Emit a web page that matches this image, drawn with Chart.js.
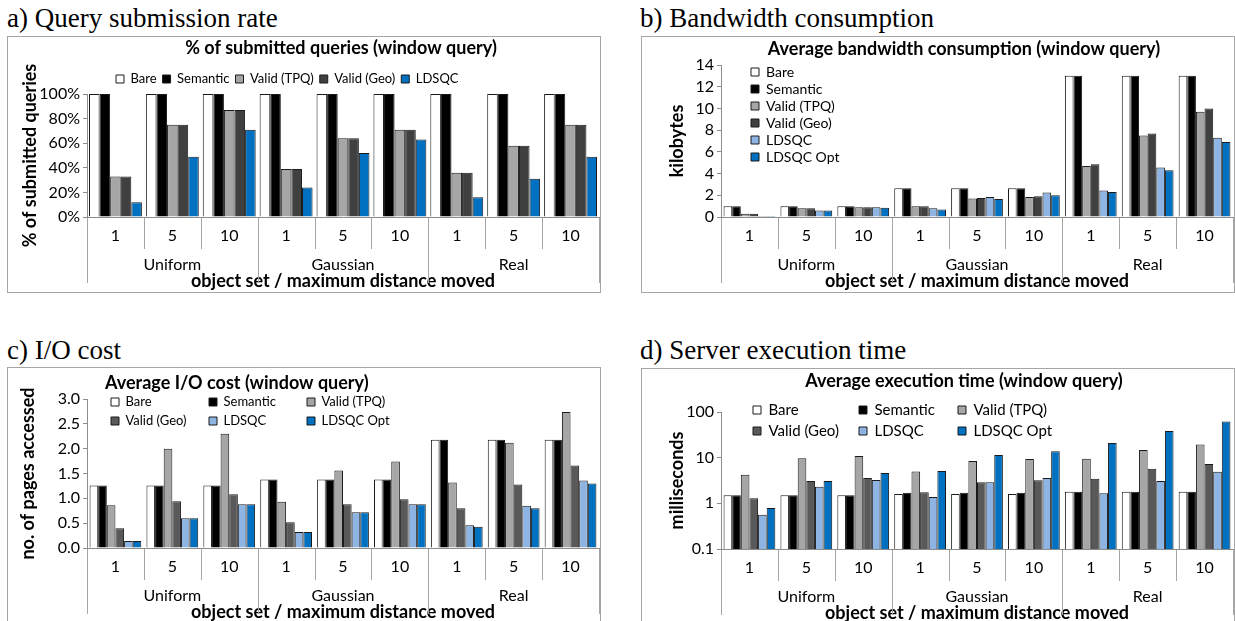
<!DOCTYPE html>
<html><head><meta charset="utf-8">
<script src="https://cdn.jsdelivr.net/npm/chart.js@4.4.1/dist/chart.umd.min.js"></script>
<style>
html,body{margin:0;padding:0;background:#fff;width:1235px;height:621px;overflow:hidden;}
body{position:relative;}
.ptitle{position:absolute;font-family:"Liberation Serif","Times New Roman",serif;font-size:27px;line-height:27px;color:#000;white-space:nowrap;}
.box{position:absolute;border:1px solid #a6a6a6;width:592px;height:255px;overflow:hidden;}
.box canvas{display:block;}
</style></head><body>
<div class="ptitle" style="left:7px;top:5px">a) Query submission rate</div>
<div class="ptitle" style="left:640px;top:5px">b) Bandwidth consumption</div>
<div class="ptitle" style="left:7px;top:337px">c) I/O cost</div>
<div class="ptitle" style="left:640px;top:337px">d) Server execution time</div>
<div class="box" style="left:7px;top:36px"><canvas id="ca" width="592" height="255"></canvas></div>
<div class="box" style="left:641px;top:36px"><canvas id="cb" width="592" height="255"></canvas></div>
<div class="box" style="left:7px;top:367px"><canvas id="cc" width="592" height="255"></canvas></div>
<div class="box" style="left:641px;top:368px"><canvas id="cd" width="592" height="255"></canvas></div>
<script>
// ---------- data ----------
const groups = ['Uniform', 'Gaussian', 'Real'];
const distances = ['1', '5', '10'];
const seriesNames = ['Bare', 'Semantic', 'Valid (TPQ)', 'Valid (Geo)', 'LDSQC', 'LDSQC Opt'];

// a) % of submitted queries
const aBare     = [100, 100, 100, 100, 100, 100, 100, 100, 100];
const aSemantic = [100, 100, 100, 100, 100, 100, 100, 100, 100];
const aTPQ      = [33, 75, 87, 39, 64, 71, 36, 58, 75];
const aGeo      = [33, 75, 87, 39, 64, 71, 36, 58, 75];
const aLDSQC    = [12, 49, 71, 24, 52, 63, 16, 31, 49];
const aTicks    = [0, 20, 40, 60, 80, 100];

// b) kilobytes
const bBare     = [1.0, 1.0, 1.0, 2.65, 2.65, 2.65, 13, 13, 13];
const bSemantic = [1.0, 1.0, 1.0, 2.65, 2.65, 2.65, 13, 13, 13];
const bTPQ      = [0.3, 0.8, 0.9, 1.0, 1.7, 1.85, 4.7, 7.5, 9.7];
const bGeo      = [0.3, 0.8, 0.9, 1.0, 1.75, 1.9, 4.85, 7.7, 10.0];
const bLDSQC    = [0.1, 0.6, 0.9, 0.8, 1.85, 2.25, 2.45, 4.55, 7.3];
const bOpt      = [0.1, 0.6, 0.85, 0.7, 1.65, 2.0, 2.3, 4.3, 6.9];
const bTicks    = [0, 2, 4, 6, 8, 10, 12, 14];

// c) pages accessed
const cBare     = [1.26, 1.26, 1.26, 1.38, 1.38, 1.38, 2.18, 2.18, 2.18];
const cSemantic = [1.26, 1.26, 1.26, 1.38, 1.38, 1.38, 2.18, 2.18, 2.18];
const cTPQ      = [0.86, 2.0, 2.3, 0.93, 1.56, 1.74, 1.32, 2.12, 2.74];
const cGeo      = [0.4, 0.94, 1.08, 0.52, 0.88, 0.98, 0.8, 1.28, 1.66];
const cLDSQC    = [0.14, 0.6, 0.88, 0.32, 0.72, 0.88, 0.46, 0.85, 1.36];
const cOpt      = [0.14, 0.6, 0.88, 0.32, 0.72, 0.88, 0.43, 0.8, 1.3];
const cTicks    = [0, 0.5, 1, 1.5, 2, 2.5, 3];

// d) milliseconds (log)
const dBare     = [1.5, 1.5, 1.5, 1.6, 1.6, 1.6, 1.8, 1.8, 1.8];
const dSemantic = [1.5, 1.5, 1.5, 1.7, 1.7, 1.7, 1.8, 1.8, 1.8];
const dTPQ      = [4.2, 9.7, 10.9, 5.0, 8.5, 9.4, 9.5, 14.8, 19.4];
const dGeo      = [1.3, 3.1, 3.6, 1.75, 2.9, 3.2, 3.45, 5.7, 7.3];
const dLDSQC    = [0.56, 2.3, 3.25, 1.38, 2.9, 3.6, 1.66, 3.1, 4.9];
const dOpt      = [0.79, 3.1, 4.6, 5.1, 11.5, 13.8, 21, 38.5, 62];
const dTicks    = [0.1, 1, 10, 100];

// ---------- styling ----------
Chart.defaults.font.family = 'Lato, "Open Sans", sans-serif';
Chart.defaults.color = '#000';
const AXIS = '#8c8c8c';
const SEP = '#a6a6a6';
const C_BARE = '#ffffff', C_SEM = '#000000', C_TPQ = '#a6a6a6', C_LD = '#8db4e2', C_OPT = '#0070c0';

const catLabels = [];
groups.forEach(() => distances.forEach(d => catLabels.push(d)));

const tweak = {
  id: 'tweak',
  afterLayout(chart, args, o) {
    if (o.titleDx && chart.titleBlock) {
      chart.titleBlock.left += o.titleDx;
      chart.titleBlock.right += o.titleDx;
    }
    const lg = chart.legend;
    if (lg && o.legend) {
      const L = o.legend;
      const lo = lg.options.labels;
      const p = lo.padding;
      const itemH = Math.max(lo.font.size, lo.boxHeight);
      const lh = itemH + p;
      const H = p + L.rows * lh + 1;
      lg.update(chart.width, H, {left: 0, top: 0, right: 0, bottom: 0});
      lg.left = L.x - p;
      lg.top = L.y - p - itemH / 2;
      lg.right = chart.width;
      lg.bottom = lg.top + H;
      lg.width = lg.right - lg.left;
      lg.height = H;
      if (L.cols && lg.columnSizes) {
        lg.columnSizes.forEach((c, i) => {
          if (i + 1 < L.cols.length) c.width = L.cols[i + 1] - L.cols[i] - p;
        });
      }
    }
  },
  afterDraw(chart, args, o) {
    const xs = chart.scales.x;
    const ctx = chart.ctx;
    const y0 = chart.chartArea.bottom;
    const n = xs.getLabels().length;
    const g = distances.length;
    ctx.save();
    ctx.strokeStyle = SEP;
    ctx.lineWidth = 1;
    for (let i = 0; i <= n; i++) {
      let px;
      if (i === 0) px = xs.left;
      else if (i === n) px = xs.right;
      else px = (xs.getPixelForValue(i - 1) + xs.getPixelForValue(i)) / 2;
      const len = (i % g === 0) ? o.longLen : o.shortLen;
      const x = Math.round(px) + 0.5;
      ctx.beginPath();
      ctx.moveTo(x, y0 + 1);
      ctx.lineTo(x, y0 + len);
      ctx.stroke();
    }
    ctx.restore();
  }
};

function ds(label, data, color, catPct) {
  return {label, data, backgroundColor: color, borderColor: '#1a1a1a', borderWidth: 1,
          categoryPercentage: catPct, barPercentage: 1, xAxisID: 'x', yAxisID: 'y'};
}

function makeChart(id, c) {
  return new Chart(document.getElementById(id), {
    type: 'bar',
    data: {labels: catLabels, datasets: c.datasets},
    plugins: [tweak],
    options: {
      responsive: false, animation: false, events: [], devicePixelRatio: 1,
      layout: {padding: {left: 0, right: 1, top: 0, bottom: 0}},
      plugins: {
        tooltip: {enabled: false},
        title: {display: true, text: c.title, fullSize: false, align: c.titleAlign || 'center',
                font: {size: 18, weight: 'bold'}, color: '#000',
                padding: {top: c.titlePad[0], bottom: c.titlePad[1]}},
        legend: {display: true, position: 'chartArea', align: 'start',
                 labels: {boxWidth: 8, boxHeight: 8, padding: c.legendPad, color: '#000',
                          font: {size: c.legendFont}, sort: c.legendSort}},
        tweak: {titleDx: c.titleDx, legend: c.legendPos, shortLen: 32, longLen: 66}
      },
      scales: {
        x: {type: 'category', position: 'bottom', offset: true,
            grid: {display: false, drawTicks: false},
            border: {display: true, color: AXIS},
            ticks: {font: {size: 16}, padding: 9.5, maxRotation: 0, autoSkip: false, color: '#000'},
            afterFit: s => { s.height = 35; }},
        x2: {type: 'category', position: 'bottom', offset: true, labels: groups,
             grid: {display: false, drawTicks: false},
             border: {display: false},
             ticks: {font: {size: 16}, padding: 2.8, maxRotation: 0, autoSkip: false, color: '#000'},
             title: {display: true, text: 'object set / maximum distance moved',
                     font: {size: 18, weight: 'bold'}, color: '#000', padding: {top: 0, bottom: 0}},
             afterFit: s => { s.height = 40; }},
        y: {type: c.yType || 'linear', position: 'left', min: c.yMin, max: c.yMax,
            grid: {drawOnChartArea: false, drawTicks: true, tickLength: 4, color: AXIS},
            border: {display: true, color: AXIS},
            ticks: {font: {size: 16}, padding: 3, color: '#000', autoSkip: false, callback: c.tickFmt},
            afterBuildTicks: s => { s.ticks = c.ticks.map(v => ({value: v})); },
            title: {display: true, text: c.yTitle, font: {size: 18, weight: 'bold'}, color: '#000',
                    padding: {top: c.yTitlePad, bottom: 0}},
            afterFit: s => { s.width = 79; }}
      }
    }
  });
}

// column-major order for the 3x2 legends: Bare, Geo | Semantic, LDSQC | TPQ, Opt
const rank = {0: 0, 3: 1, 1: 2, 4: 3, 2: 4, 5: 5};
const sort3x2 = (a, b) => rank[a.datasetIndex] - rank[b.datasetIndex];

makeChart('ca', {
  title: '% of submitted queries (window query)', titlePad: [0.2, 35.2], titleDx: -2,
  yTitle: '% of submitted queries', yTitlePad: 11.2,
  yMin: 0, yMax: 100, ticks: aTicks, tickFmt: v => v + '%',
  legendPad: 6, legendFont: 13, legendPos: {x: 108, y: 42, rows: 1},
  datasets: [
    ds(seriesNames[0], aBare, C_BARE, 0.93),
    ds(seriesNames[1], aSemantic, C_SEM, 0.93),
    ds(seriesNames[2], aTPQ, C_TPQ, 0.93),
    ds(seriesNames[3], aGeo, '#404040', 0.93),
    ds(seriesNames[4], aLDSQC, C_OPT, 0.93)
  ]
});

makeChart('cb', {
  title: 'Average bandwidth consumption (window query)', titlePad: [1.2, 5.2], titleDx: -13,
  yTitle: 'kilobytes', yTitlePad: 24.2,
  yMin: 0, yMax: 14, ticks: bTicks, tickFmt: v => String(v),
  legendPad: 3, legendFont: 14, legendPos: {x: 109, y: 35, rows: 6},
  datasets: [
    ds(seriesNames[0], bBare, C_BARE, 0.91),
    ds(seriesNames[1], bSemantic, C_SEM, 0.91),
    ds(seriesNames[2], bTPQ, C_TPQ, 0.91),
    ds(seriesNames[3], bGeo, '#404040', 0.91),
    ds(seriesNames[4], bLDSQC, C_LD, 0.91),
    ds(seriesNames[5], bOpt, C_OPT, 0.91)
  ]
});

makeChart('cc', {
  title: 'Average I/O cost (window query)', titlePad: [4.2, 5.2], titleDx: 18, titleAlign: 'start',
  yTitle: 'no. of pages accessed', yTitlePad: 9.2,
  yMin: 0, yMax: 3, ticks: cTicks, tickFmt: v => Number(v).toFixed(1),
  legendPad: 6, legendFont: 13, legendSort: sort3x2,
  legendPos: {x: 103, y: 34, rows: 2, cols: [103, 201, 299]},
  datasets: [
    ds(seriesNames[0], cBare, C_BARE, 0.91),
    ds(seriesNames[1], cSemantic, C_SEM, 0.91),
    ds(seriesNames[2], cTPQ, C_TPQ, 0.91),
    ds(seriesNames[3], cGeo, '#595959', 0.91),
    ds(seriesNames[4], cLDSQC, C_LD, 0.91),
    ds(seriesNames[5], cOpt, C_OPT, 0.91)
  ]
});

makeChart('cd', {
  title: 'Average execution time (window query)', titlePad: [1.2, 20.2], titleDx: -13,
  yTitle: 'milliseconds', yTitlePad: 24.2, yType: 'logarithmic',
  yMin: 0.1, yMax: 100, ticks: dTicks, tickFmt: v => String(v),
  legendPad: 6, legendFont: 15, legendSort: sort3x2,
  legendPos: {x: 111, y: 41, rows: 2, cols: [111, 217, 316]},
  datasets: [
    ds(seriesNames[0], dBare, C_BARE, 0.91),
    ds(seriesNames[1], dSemantic, C_SEM, 0.91),
    ds(seriesNames[2], dTPQ, C_TPQ, 0.91),
    ds(seriesNames[3], dGeo, '#595959', 0.91),
    ds(seriesNames[4], dLDSQC, C_LD, 0.91),
    ds(seriesNames[5], dOpt, C_OPT, 0.91)
  ]
});
</script>
</body></html>
